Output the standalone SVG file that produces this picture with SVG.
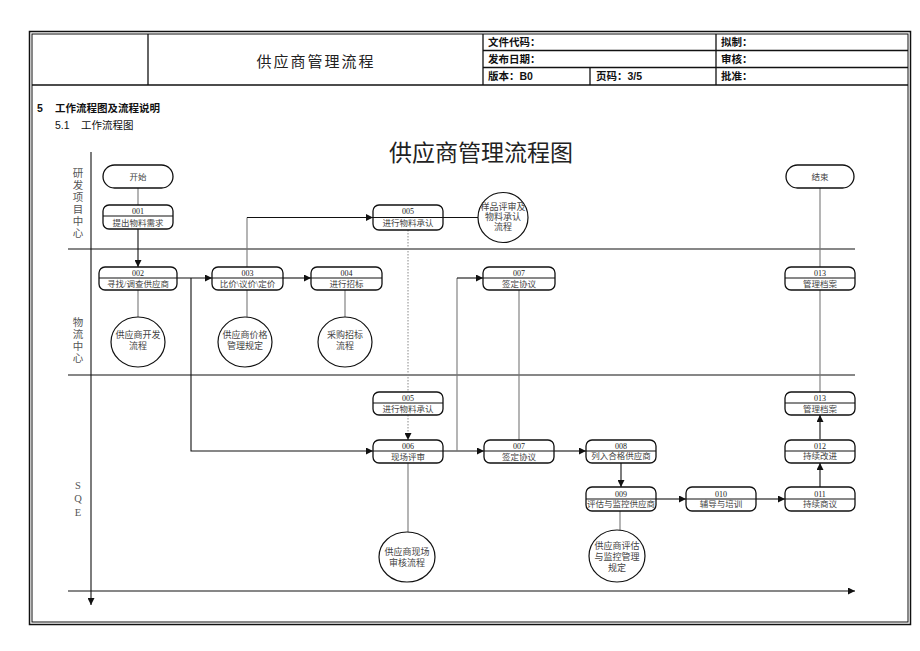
<svg xmlns="http://www.w3.org/2000/svg" width="920" height="651" viewBox="0 0 920 651">
<style>
.frame{fill:none;stroke:#111;}
.hd{font-family:"Liberation Sans","Noto Sans CJK SC",sans-serif;font-size:10.5px;font-weight:bold;fill:#111;}
.sec{font-family:"Liberation Sans","Noto Sans CJK SC",sans-serif;font-size:10.5px;fill:#111;}
.box{fill:#fff;stroke:#111;stroke-width:1.3;}
.div{stroke:#111;stroke-width:1;}
.num{font-family:"Liberation Serif","Noto Sans CJK SC",serif;font-size:8px;fill:#222;text-anchor:middle;}
.lbl{font-family:"Liberation Serif","Noto Sans CJK SC",serif;font-size:8.5px;fill:#444;text-anchor:middle;}
.circ{fill:#fff;stroke:#111;stroke-width:1.2;}
.ctx{font-family:"Liberation Serif","Noto Sans CJK SC",serif;font-size:9px;fill:#444;text-anchor:middle;}
.lane{font-family:"Liberation Serif","Noto Sans CJK SC",serif;font-size:10.5px;fill:#555;text-anchor:middle;}
.ln{fill:none;stroke:#111;stroke-width:1.1;}
.gr{fill:none;stroke:#777;stroke-width:1.1;}
.dot{fill:none;stroke:#888;stroke-width:1;stroke-dasharray:1.5 1.5;}
</style>
<defs>
<marker id="arr" viewBox="0 0 10 10" refX="10" refY="5" markerWidth="7" markerHeight="7" markerUnits="userSpaceOnUse" orient="auto">
<path d="M0,0 L10,5 L0,10 z" fill="#111"/>
</marker>
</defs>
<rect width="920" height="651" fill="#fff"/>
<!-- frame and header -->
<g id="frame">
<rect class="frame" x="29.5" y="31.5" width="881" height="593" stroke-width="1.5"/>
<rect class="frame" x="32" y="34" width="876" height="588" stroke-width="1"/>
<line class="frame" x1="32" y1="85" x2="908" y2="85" stroke-width="1.3"/>
<line class="frame" x1="148" y1="34" x2="148" y2="85" stroke-width="1.3"/>
<line class="frame" x1="483" y1="34" x2="483" y2="85" stroke-width="1.3"/>
<line class="frame" x1="483" y1="50.5" x2="908" y2="50.5" stroke-width="1.3"/>
<line class="frame" x1="483" y1="67.5" x2="908" y2="67.5" stroke-width="1.3"/>
<line class="frame" x1="716" y1="34" x2="716" y2="85" stroke-width="1.3"/>
<line class="frame" x1="590" y1="67.5" x2="590" y2="85" stroke-width="1.3"/>
<text x="316" y="67" text-anchor="middle" style="font-family:'Liberation Sans','Noto Sans CJK SC',sans-serif;font-size:15px;letter-spacing:2px;fill:#222">供应商管理流程</text>
<text class="hd" x="488" y="46">文件代码：</text>
<text class="hd" x="488" y="63">发布日期：</text>
<text class="hd" x="488" y="80">版本：B0</text>
<text class="hd" x="596" y="80">页码：3/5</text>
<text class="hd" x="721" y="46">拟制：</text>
<text class="hd" x="721" y="63">审核：</text>
<text class="hd" x="721" y="80">批准：</text>
<text class="hd" x="37" y="112">5</text>
<text class="hd" x="55" y="112">工作流程图及流程说明</text>
<text class="sec" x="55" y="129">5.1</text>
<text class="sec" x="81" y="129">工作流程图</text>
<text x="481" y="161" text-anchor="middle" style="font-family:'Liberation Serif','Noto Sans CJK SC',serif;font-size:23px;fill:#222">供应商管理流程图</text>
</g>
<!-- lanes -->
<g id="lanes">
<line class="ln" x1="91" y1="152" x2="91" y2="605" marker-end="url(#arr)" stroke-width="1.4"/>
<line class="ln" x1="68" y1="249" x2="855" y2="249" stroke-width="1.3"/>
<line class="ln" x1="68" y1="375" x2="855" y2="375" stroke-width="1.3" stroke="#333"/>
<line class="ln" x1="68" y1="591" x2="855" y2="591" stroke-width="1.3" stroke="#333" marker-end="url(#arr)"/>
<text class="lane" x="78" y="177">研</text>
<text class="lane" x="78" y="189">发</text>
<text class="lane" x="78" y="201">项</text>
<text class="lane" x="78" y="213">目</text>
<text class="lane" x="78" y="225">中</text>
<text class="lane" x="78" y="237">心</text>
<text class="lane" x="78" y="326">物</text>
<text class="lane" x="78" y="338">流</text>
<text class="lane" x="78" y="350">中</text>
<text class="lane" x="78" y="362">心</text>
<text class="lane" x="78" y="489">S</text>
<text class="lane" x="78" y="502">Q</text>
<text class="lane" x="78" y="516">E</text>
</g>
<!-- connectors -->
<g id="connectors">
<line class="gr" x1="138" y1="188" x2="138" y2="205"/>
<line class="ln" x1="138" y1="229" x2="138" y2="267" marker-end="url(#arr)"/>
<line class="ln" x1="177" y1="278" x2="212" y2="278" marker-end="url(#arr)"/>
<path class="ln" d="M191,278 V451 H373" marker-end="url(#arr)"/>
<line class="ln" x1="283" y1="278" x2="311" y2="278" marker-end="url(#arr)"/>
<path class="gr" d="M247,267 V217.5"/>
<path class="ln" d="M247,217.5 H373" marker-end="url(#arr)"/>
<line class="ln" x1="443" y1="217.5" x2="478" y2="217.5"/>
<line class="dot" x1="408" y1="230" x2="408" y2="392"/>
<line class="dot" x1="408" y1="415" x2="408" y2="440" marker-end="url(#arr)"/>
<line class="ln" x1="443" y1="451" x2="484" y2="451" marker-end="url(#arr)"/>
<path class="gr" d="M457,451 V278"/>
<path class="ln" d="M457,278 H483" stroke="#555" marker-end="url(#arr)"/>
<line class="gr" x1="519" y1="290" x2="519" y2="440"/>
<line class="ln" x1="554" y1="451" x2="586" y2="451" marker-end="url(#arr)"/>
<line class="ln" x1="621" y1="463" x2="621" y2="487" marker-end="url(#arr)"/>
<line class="ln" x1="656" y1="499" x2="686" y2="499" marker-end="url(#arr)"/>
<line class="ln" x1="756" y1="499" x2="785" y2="499" marker-end="url(#arr)"/>
<line class="ln" x1="820" y1="487" x2="820" y2="463" stroke="#555" marker-end="url(#arr)"/>
<line class="ln" x1="820" y1="439" x2="820" y2="415" stroke="#555" marker-end="url(#arr)"/>
<line class="gr" x1="820" y1="392" x2="820" y2="290"/>
<line class="gr" x1="820" y1="267" x2="820" y2="188"/>
<line class="gr" x1="138" y1="290" x2="138" y2="317"/>
<line class="gr" x1="247" y1="290" x2="247" y2="317"/>
<line class="gr" x1="345" y1="290" x2="345" y2="317"/>
<line class="gr" x1="408" y1="463" x2="408" y2="533"/>
<line class="gr" x1="620" y1="511" x2="620" y2="530"/>
</g>
<!-- nodes -->
<g id="start">
<rect class="box" x="103" y="165" width="70" height="23" rx="11.5"/>
<text class="lbl" x="138" y="180" font-size="9">开始</text>
</g>
<g id="end">
<rect class="box" x="786" y="165" width="68" height="23" rx="11.5"/>
<text class="lbl" x="820" y="180" font-size="9">结束</text>
</g>
<g id="n001">
<rect class="box" x="103" y="205" width="70" height="24" rx="6"/>
<line class="div" x1="103" y1="216" x2="173" y2="216"/>
<text class="num" x="138" y="214">001</text>
<text class="lbl" x="138" y="226">提出物料需求</text>
</g>
<g id="n005a">
<rect class="box" x="373" y="205" width="70" height="25" rx="6"/>
<line class="div" x1="373" y1="217.5" x2="443" y2="217.5"/>
<text class="num" x="408" y="214">005</text>
<text class="lbl" x="408" y="226">进行物料承认</text>
</g>
<g id="c005">
<ellipse class="circ" cx="503" cy="217.5" rx="25" ry="25"/>
<text class="ctx" x="503" y="210" font-size="8.3">样品评审及</text>
<text class="ctx" x="503" y="220" font-size="8.3">物料承认</text>
<text class="ctx" x="503" y="230" font-size="8.3">流程</text>
</g>
<g id="n002">
<rect class="box" x="99" y="267" width="78" height="23" rx="6"/>
<line class="div" x1="99" y1="278" x2="177" y2="278"/>
<text class="num" x="138" y="276">002</text>
<text class="lbl" x="138" y="287">寻找/调查供应商</text>
</g>
<g id="n003">
<rect class="box" x="212" y="267" width="71" height="23" rx="6"/>
<line class="div" x1="212" y1="278" x2="283" y2="278"/>
<text class="num" x="247.5" y="276">003</text>
<text class="lbl" x="247.5" y="287">比价\议价\定价</text>
</g>
<g id="n004">
<rect class="box" x="311" y="267" width="71" height="23" rx="6"/>
<line class="div" x1="311" y1="278" x2="382" y2="278"/>
<text class="num" x="346.5" y="276">004</text>
<text class="lbl" x="346.5" y="287">进行招标</text>
</g>
<g id="n007a">
<rect class="box" x="483" y="267" width="72" height="23" rx="6"/>
<line class="div" x1="483" y1="278" x2="555" y2="278"/>
<text class="num" x="519" y="276">007</text>
<text class="lbl" x="519" y="287">签定协议</text>
</g>
<g id="n013a">
<rect class="box" x="785" y="267" width="70" height="23" rx="6"/>
<line class="div" x1="785" y1="278" x2="855" y2="278"/>
<text class="num" x="820" y="276" font-size="7.5">013</text>
<text class="lbl" x="820" y="287" font-size="8">管理档案</text>
</g>
<g id="c002">
<ellipse class="circ" cx="138" cy="342" rx="27" ry="25"/>
<text class="ctx" x="138" y="338">供应商开发</text>
<text class="ctx" x="138" y="349">流程</text>
</g>
<g id="c003">
<ellipse class="circ" cx="245" cy="342" rx="27" ry="25"/>
<text class="ctx" x="245" y="338">供应商价格</text>
<text class="ctx" x="245" y="349">管理规定</text>
</g>
<g id="c004">
<ellipse class="circ" cx="345" cy="342" rx="27" ry="25"/>
<text class="ctx" x="345" y="338">采购招标</text>
<text class="ctx" x="345" y="349">流程</text>
</g>
<g id="n005b">
<rect class="box" x="373" y="392" width="70" height="23" rx="6"/>
<line class="div" x1="373" y1="403" x2="443" y2="403"/>
<text class="num" x="408" y="401">005</text>
<text class="lbl" x="408" y="412">进行物料承认</text>
</g>
<g id="n013b">
<rect class="box" x="785" y="392" width="70" height="23" rx="6"/>
<line class="div" x1="785" y1="403" x2="855" y2="403"/>
<text class="num" x="820" y="401" font-size="7.5">013</text>
<text class="lbl" x="820" y="412" font-size="8">管理档案</text>
</g>
<g id="n006">
<rect class="box" x="373" y="440" width="70" height="23" rx="6"/>
<line class="div" x1="373" y1="451" x2="443" y2="451"/>
<text class="num" x="408" y="449">006</text>
<text class="lbl" x="408" y="460">现场评审</text>
</g>
<g id="n007b">
<rect class="box" x="484" y="440" width="70" height="23" rx="6"/>
<line class="div" x1="484" y1="451" x2="554" y2="451"/>
<text class="num" x="519" y="449">007</text>
<text class="lbl" x="519" y="460">签定协议</text>
</g>
<g id="n008">
<rect class="box" x="586" y="440" width="70" height="23" rx="6"/>
<line class="div" x1="586" y1="451" x2="656" y2="451"/>
<text class="num" x="621" y="449">008</text>
<text class="lbl" x="621" y="458.5">列入合格供应商</text>
</g>
<g id="n012">
<rect class="box" x="785" y="440" width="70" height="23" rx="6"/>
<line class="div" x1="785" y1="451" x2="855" y2="451"/>
<text class="num" x="820" y="449" font-size="7.5">012</text>
<text class="lbl" x="820" y="459" font-size="8">持续改进</text>
</g>
<g id="n009">
<rect class="box" x="586" y="487" width="70" height="24" rx="6"/>
<line class="div" x1="586" y1="499" x2="656" y2="499"/>
<text class="num" x="621" y="497">009</text>
<text class="lbl" x="621" y="507">评估与监控供应商</text>
</g>
<g id="n010">
<rect class="box" x="686" y="487" width="70" height="24" rx="6"/>
<line class="div" x1="686" y1="499" x2="756" y2="499"/>
<text class="num" x="721" y="497" font-size="7.5">010</text>
<text class="lbl" x="721" y="507" font-size="8">辅导与培训</text>
</g>
<g id="n011">
<rect class="box" x="785" y="487" width="70" height="24" rx="6"/>
<line class="div" x1="785" y1="499" x2="855" y2="499"/>
<text class="num" x="820" y="497" font-size="7.5">011</text>
<text class="lbl" x="820" y="507" font-size="8">持续商议</text>
</g>
<g id="c006">
<ellipse class="circ" cx="407" cy="557" rx="28" ry="25"/>
<text class="ctx" x="407" y="555">供应商现场</text>
<text class="ctx" x="407" y="566">审核流程</text>
</g>
<g id="c009">
<ellipse class="circ" cx="617" cy="556" rx="28" ry="26"/>
<text class="ctx" x="617" y="549">供应商评估</text>
<text class="ctx" x="617" y="560">与监控管理</text>
<text class="ctx" x="617" y="571">规定</text>
</g>
</svg>
